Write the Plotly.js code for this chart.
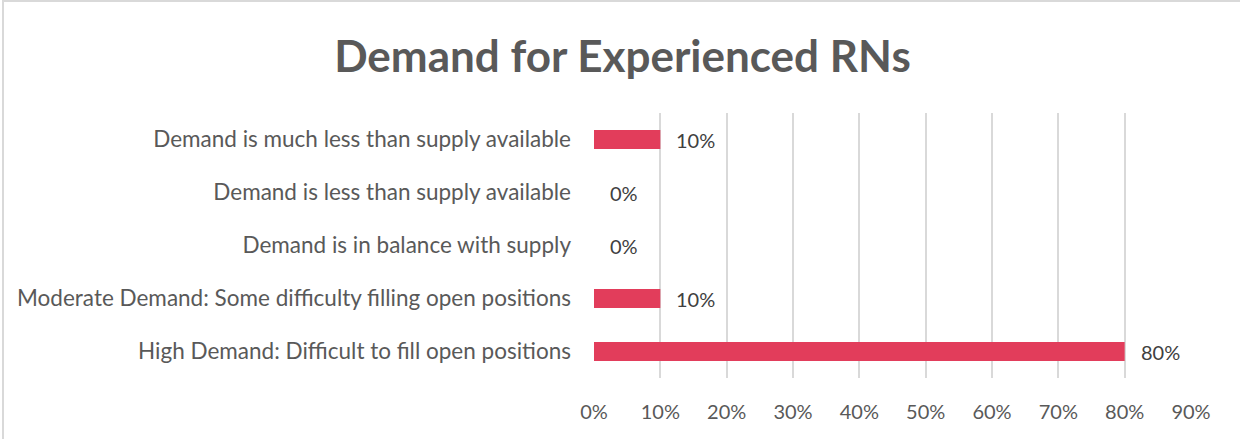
<!DOCTYPE html>
<html>
<head>
<meta charset="utf-8">
<script src="https://cdn.plot.ly/plotly-3.0.1.min.js"></script>
<style>
  html, body { margin: 0; padding: 0; background: #fff; }
  #frame { position: absolute; left: 2px; top: 0; width: 1238px; height: 439px;
           border-left: 2px solid #d9d9d9; border-top: 2px solid #d9d9d9; box-sizing: border-box; }
  #plot { position: absolute; left: 0; top: 0; width: 1240px; height: 439px; }
</style>
</head>
<body>
<div id="frame"></div>
<div id="plot"></div>
<script>
// Demand for experienced RNs — horizontal bar, shares of respondents
const categories = [
  'Demand is much less than supply available',
  'Demand is less than supply available',
  'Demand is in balance with supply',
  'Moderate Demand: Some difficulty filling open positions',
  'High Demand: Difficult to fill open positions'
];
const shares = [0.10, 0, 0, 0.10, 0.80];
const xTicks = [0, 0.1, 0.2, 0.3, 0.4, 0.5, 0.6, 0.7, 0.8, 0.9];
const xTickText = ['0%', '10%', '20%', '30%', '40%', '50%', '60%', '70%', '80%', '90%'];

const FONT = 'Lato, "Open Sans", sans-serif';
const GREY = '#595959';

const labels = categories.map((c, i) => ({
  x: shares[i], y: c, xref: 'x', yref: 'y',
  text: Math.round(shares[i] * 100) + '%',
  showarrow: false, xanchor: 'left', xshift: 14,
  font: { family: FONT, size: 20, color: '#404040' }
}));

Plotly.newPlot('plot', [{
  type: 'bar', orientation: 'h',
  x: shares, y: categories,
  marker: { color: '#E23D5B' },
  hoverinfo: 'skip'
}], {
  width: 1240, height: 439,
  paper_bgcolor: 'rgba(0,0,0,0)', plot_bgcolor: 'rgba(0,0,0,0)',
  margin: { l: 594, r: 49, t: 113, b: 61 },
  bargap: 0.64,
  showlegend: false,
  title: {
    text: '<b>Demand for Experienced RNs</b>',
    x: 0.502, xref: 'container', xanchor: 'center',
    y: 52, yref: 'container', yanchor: 'middle',
    font: { family: FONT, size: 44, color: GREY }
  },
  xaxis: {
    range: [0, 0.9], tickvals: xTicks, ticktext: xTickText,
    showgrid: true, gridcolor: '#d9d9d9', gridwidth: 2,
    zeroline: false, showline: false, ticks: '',
    ticklabelstandoff: 20,
    tickfont: { family: FONT, size: 20, color: GREY }, fixedrange: true
  },
  yaxis: {
    autorange: 'reversed', showgrid: false, zeroline: false, showline: false, ticks: '',
    ticklabelstandoff: 22,
    tickfont: { family: FONT, size: 22.5, color: GREY }, fixedrange: true
  },
  annotations: labels
}, { staticPlot: true, displayModeBar: false });
</script>
</body>
</html>
